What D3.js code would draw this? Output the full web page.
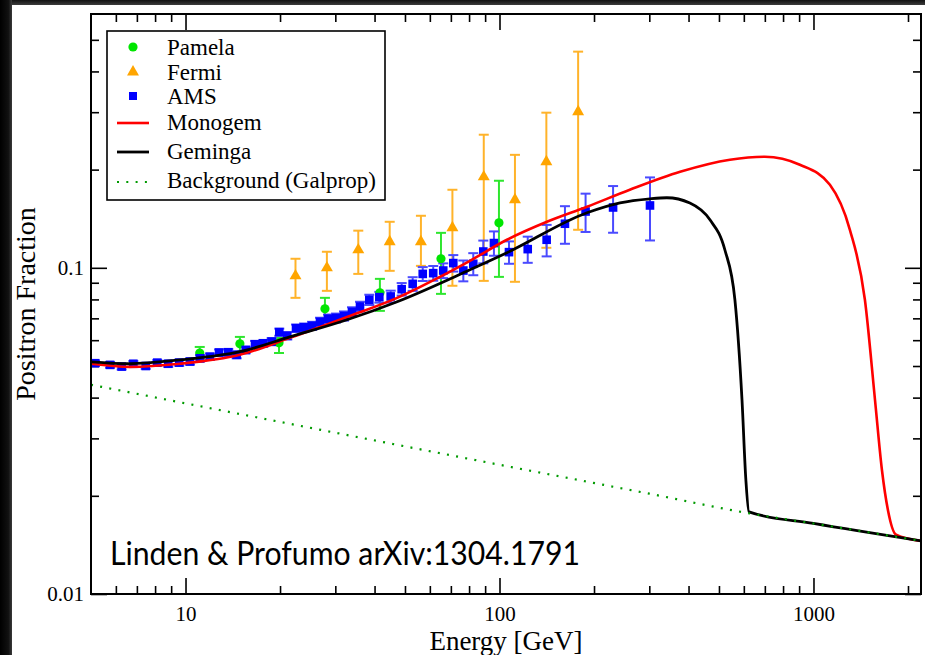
<!DOCTYPE html>
<html><head><meta charset="utf-8">
<script src="https://cdn.jsdelivr.net/npm/d3@7"></script>
<style>html,body{margin:0;padding:0;background:#fff;overflow:hidden}svg{display:block}</style>
</head><body>
<svg id="c" width="925" height="655"></svg>
<script>
// ---------------- data ----------------
const pamelaE  = [11.1, 14.9, 19.85, 27.8, 41.6, 65.1, 99.6];
const pamelaV  = [0.0548, 0.0585, 0.0589, 0.0749, 0.0838, 0.1066, 0.1374];
const pamelaLo = [0.0526, 0.0553, 0.0548, 0.0702, 0.0738, 0.0832, 0.0938];
const pamelaHi = [0.0572, 0.0614, 0.0610, 0.0809, 0.0925, 0.1280, 0.1849];

const fermiE  = [22.4, 28.2, 35.5, 44.7, 56.2, 70.8, 89.1, 112, 141, 178];
const fermiV  = [0.0945, 0.100, 0.1135, 0.1202, 0.1202, 0.1327, 0.190, 0.1617, 0.2114, 0.301];
const fermiLo = [0.0809, 0.085, 0.0958, 0.0979, 0.1014, 0.0881, 0.0912, 0.0906, 0.1152, 0.1308];
const fermiHi = [0.1066, 0.112, 0.130, 0.1384, 0.1444, 0.1735, 0.2559, 0.222, 0.299, 0.46];

const amsE = [5.15,5.75,6.26,6.82,7.47,8.13,8.81,9.55,10.33,11.12,11.96,12.79,13.68,14.55,15.55,16.65,17.69,18.81,19.89,21.09,22.49,23.85,25.29,26.81,28.43,30.15,31.97,33.9,35.95,38.49,41.42,45.02,48.8,52.9,56.95,61.5,66.2,71.26,76.7,82.5,88.8,96,107.2,123,141.3,161.6,188,230,301.5];
const amsV = [0.0510,0.0504,0.0498,0.0508,0.0500,0.0512,0.0508,0.0512,0.0516,0.0528,0.0534,0.0550,0.0551,0.0541,0.0560,0.0583,0.0587,0.0594,0.0635,0.0619,0.0653,0.0657,0.0664,0.0683,0.0698,0.0702,0.0712,0.0733,0.0761,0.0798,0.0813,0.0817,0.0860,0.0893,0.0958,0.0963,0.0981,0.1034,0.0981,0.1029,0.1122,0.1191,0.1117,0.1141,0.1219,0.1365,0.1488,0.1531,0.1553];
const amsErr = [0.0010,0.0010,0.0010,0.0010,0.0010,0.0010,0.0011,0.0011,0.0011,0.0012,0.0012,0.0012,0.0013,0.0013,0.0013,0.0014,0.0014,0.0015,0.0016,0.0016,0.0017,0.0018,0.0019,0.0020,0.0021,0.0022,0.0023,0.0024,0.0026,0.0029,0.0031,0.0034,0.0038,0.0043,0.0047,0.0050,0.0051,0.0060,0.0072,0.0080,0.0090,0.0102,0.0088,0.0105,0.0135,0.0180,0.0200,0.0250,0.0340];

const monogemE = [5, 6.65, 9.6, 14.9, 21.5, 32.7, 47.2, 64.6, 80.5, 105.6, 141.6, 190, 260, 376, 542, 700, 905, 1128, 1306, 1458, 1570, 1652, 1726, 1832, 2200];
const monogemV = [0.0508, 0.0497, 0.0508, 0.0541, 0.061, 0.0707, 0.0809, 0.0938, 0.1051, 0.1219, 0.1384, 0.1539, 0.1735, 0.197, 0.2145, 0.219, 0.207, 0.1797, 0.1308, 0.0798, 0.0394, 0.024, 0.0181, 0.0152, 0.01455];

const gemingaE = [5, 6.65, 9.6, 14.9, 21.5, 32.7, 47.2, 80.5, 105.6, 190, 242, 301.6, 341, 404, 468, 522, 562, 592, 609, 623, 1000, 2200];
const gemingaV = [0.0515, 0.0508, 0.0522, 0.0553, 0.0614, 0.0693, 0.0787, 0.0986, 0.1112, 0.1475, 0.1582, 0.1628, 0.164, 0.158, 0.1403, 0.1136, 0.0798, 0.0394, 0.0224, 0.01785, 0.01645, 0.01455];

const bgE = [5, 20, 100, 300, 640, 1000, 2200];
const bgV = [0.0438, 0.0337, 0.0249, 0.0203, 0.0176, 0.01645, 0.01455];

const xMajor = [10, 100, 1000];
const xMinor = [6,7,8,9,20,30,40,50,60,70,80,90,200,300,400,500,600,700,800,900,2000];
const yMajor = [0.01, 0.1];
const yMinor = [0.02,0.03,0.04,0.05,0.06,0.07,0.08,0.09,0.2,0.3,0.4,0.5];

const legendNames = ["Pamela", "Fermi", "AMS", "Monogem", "Geminga", "Background (Galprop)"];

// ---------------- drawing ----------------
const svg = d3.select("#c");
const L = 91, R = 921, T = 14, B = 594;
const x = d3.scaleLog().domain([5, 2200]).range([L, R]);
const y = d3.scaleLog().domain([0.01, 0.6]).range([B, T]);

const serif = "'Liberation Serif','Times New Roman',serif";
const C = {pamela:"#00e600", pamelaBar:"#2ee62e", fermi:"#ffa500", fermiBar:"#ffb32a",
           ams:"#0000ff", amsBar:"#4a4aff", mono:"#ff0000", gem:"#000000", bg:"#009a00"};

// page frame (dark borders)
const defs = svg.append("defs");
const lg = defs.append("linearGradient").attr("id","lgrad").attr("x1","0").attr("x2","1").attr("y1","0").attr("y2","0");
lg.append("stop").attr("offset","0").attr("stop-color","#000");
lg.append("stop").attr("offset","0.7").attr("stop-color","#111");
lg.append("stop").attr("offset","1").attr("stop-color","#3a3a3a");
const tg = defs.append("linearGradient").attr("id","tgrad").attr("x1","0").attr("x2","0").attr("y1","0").attr("y2","1");
tg.append("stop").attr("offset","0").attr("stop-color","#111");
tg.append("stop").attr("offset","1").attr("stop-color","#3c3c3c");
svg.append("rect").attr("x",0).attr("y",0).attr("width",925).attr("height",5).attr("fill","url(#tgrad)");
svg.append("rect").attr("x",0).attr("y",0).attr("width",12).attr("height",655).attr("fill","url(#lgrad)");

defs.append("clipPath").attr("id","plotclip").append("rect")
  .attr("x",L).attr("y",T).attr("width",R-L).attr("height",B-T);

// axes
function styleAxis(g){
  g.select(".domain").remove();
  g.selectAll(".tick line").attr("stroke","#000").attr("stroke-width",1.6);
  g.selectAll(".tick text").attr("font-family",serif).attr("font-size",21).attr("fill","#000");
}
svg.append("g").attr("transform",`translate(0,${B})`)
  .call(d3.axisBottom(x).tickValues(xMajor).tickFormat(d3.format("d")).tickSize(-16).tickPadding(12)).call(styleAxis);
svg.append("g").attr("transform",`translate(0,${B})`)
  .call(d3.axisBottom(x).tickValues(xMinor).tickFormat("").tickSize(-8)).call(styleAxis);
svg.append("g").attr("transform",`translate(0,${T})`)
  .call(d3.axisTop(x).tickValues(xMajor).tickFormat("").tickSize(-16)).call(styleAxis);
svg.append("g").attr("transform",`translate(0,${T})`)
  .call(d3.axisTop(x).tickValues(xMinor).tickFormat("").tickSize(-8)).call(styleAxis);
svg.append("g").attr("transform",`translate(${L},0)`)
  .call(d3.axisLeft(y).tickValues(yMajor).tickFormat(d => d === 0.1 ? "0.1" : "0.01").tickSize(-16).tickPadding(7)).call(styleAxis);
svg.append("g").attr("transform",`translate(${L},0)`)
  .call(d3.axisLeft(y).tickValues(yMinor).tickFormat("").tickSize(-8)).call(styleAxis);
svg.append("g").attr("transform",`translate(${R},0)`)
  .call(d3.axisRight(y).tickValues(yMajor).tickFormat("").tickSize(-16)).call(styleAxis);
svg.append("g").attr("transform",`translate(${R},0)`)
  .call(d3.axisRight(y).tickValues(yMinor).tickFormat("").tickSize(-8)).call(styleAxis);
// bottom tick labels: place baseline explicitly
svg.selectAll("g.tick text").filter(function(){ return this.textContent && /^\d+$/.test(this.textContent); })
  .attr("dy", null).attr("y", 27);

// axis titles
svg.append("text").attr("x",(L+R)/2).attr("y",650).attr("text-anchor","middle")
  .attr("font-family",serif).attr("font-size",27).text("Energy [GeV]");
svg.append("text").attr("transform",`translate(35,${(T+B)/2}) rotate(-90)`).attr("text-anchor","middle")
  .attr("font-family",serif).attr("font-size",28).text("Positron Fraction");

// annotation
svg.append("text").attr("x",110).attr("y",565).attr("font-family","Lato,'Open Sans',sans-serif")
  .attr("font-size",32).attr("textLength",470).attr("lengthAdjust","spacingAndGlyphs")
  .text("Linden & Profumo arXiv:1304.1791");

const plot = svg.append("g").attr("clip-path","url(#plotclip)");

// error bars helper
function errBars(g, E, lo, hi, color, cap){
  const sel = g.append("g").attr("stroke",color).attr("stroke-width",2).attr("fill","none");
  E.forEach((e,i)=>{
    const cx = x(e), y1 = y(lo[i]), y2 = y(hi[i]);
    sel.append("line").attr("x1",cx).attr("x2",cx).attr("y1",y1).attr("y2",y2);
    sel.append("line").attr("x1",cx-cap).attr("x2",cx+cap).attr("y1",y1).attr("y2",y1);
    sel.append("line").attr("x1",cx-cap).attr("x2",cx+cap).attr("y1",y2).attr("y2",y2);
  });
}
const amsLo = amsV.map((v,i)=>v-amsErr[i]);
const amsHi = amsV.map((v,i)=>v+amsErr[i]);

errBars(plot, fermiE, fermiLo, fermiHi, C.fermiBar, 5);
errBars(plot, pamelaE, pamelaLo, pamelaHi, C.pamelaBar, 5);
errBars(plot, amsE, amsLo, amsHi, C.amsBar, 5);

const tri = d3.symbol().type(d3.symbolTriangle).size(62);
plot.append("g").selectAll("path").data(fermiE).join("path")
  .attr("d", tri).attr("transform",(d,i)=>`translate(${x(d)},${y(fermiV[i])})`).attr("fill",C.fermi);
plot.append("g").selectAll("circle").data(pamelaE).join("circle")
  .attr("cx",d=>x(d)).attr("cy",(d,i)=>y(pamelaV[i])).attr("r",4.6).attr("fill",C.pamela);
plot.append("g").selectAll("rect").data(amsE).join("rect")
  .attr("x",d=>x(d)-4.3).attr("y",(d,i)=>y(amsV[i])-4.3).attr("width",8.6).attr("height",8.6).attr("fill",C.ams);

// curves
const line = d3.line().x(d=>x(d[0])).y(d=>y(d[1])).curve(d3.curveMonotoneX);
plot.append("path").datum(monogemE.map((e,i)=>[e,monogemV[i]])).attr("d",line)
  .attr("fill","none").attr("stroke",C.mono).attr("stroke-width",2.6);
plot.append("path").datum(gemingaE.map((e,i)=>[e,gemingaV[i]])).attr("d",line)
  .attr("fill","none").attr("stroke",C.gem).attr("stroke-width",2.8);
plot.append("path").datum(bgE.map((e,i)=>[e,bgV[i]])).attr("d",line)
  .attr("fill","none").attr("stroke",C.bg).attr("stroke-width",2.2).attr("stroke-dasharray","2,7.3");

// frame
svg.append("rect").attr("x",L).attr("y",T).attr("width",R-L).attr("height",B-T)
  .attr("fill","none").attr("stroke","#000").attr("stroke-width",2);

// legend
const lgd = svg.append("g");
lgd.append("rect").attr("x",107).attr("y",31).attr("width",278).attr("height",169)
  .attr("fill","#fff").attr("stroke","#000").attr("stroke-width",1.6);
const rowsY = [47, 72, 96, 122, 151, 180];
legendNames.forEach((name,i)=>{
  const ry = rowsY[i];
  if (i===0) lgd.append("circle").attr("cx",133).attr("cy",ry).attr("r",4.6).attr("fill",C.pamela);
  if (i===1) lgd.append("path").attr("d",tri).attr("transform",`translate(133,${ry})`).attr("fill",C.fermi);
  if (i===2) lgd.append("rect").attr("x",129).attr("y",ry-4).attr("width",8).attr("height",8).attr("fill",C.ams);
  if (i===3) lgd.append("line").attr("x1",117).attr("x2",149).attr("y1",ry+1).attr("y2",ry+1).attr("stroke",C.mono).attr("stroke-width",2.6);
  if (i===4) lgd.append("line").attr("x1",117).attr("x2",149).attr("y1",ry+1).attr("y2",ry+1).attr("stroke",C.gem).attr("stroke-width",2.8);
  if (i===5) lgd.append("line").attr("x1",117).attr("x2",149).attr("y1",ry+2).attr("y2",ry+2).attr("stroke",C.bg).attr("stroke-width",2.2).attr("stroke-dasharray","2,7.3");
  lgd.append("text").attr("x",167).attr("y",ry+8).attr("font-family",serif).attr("font-size",23).text(name);
});
</script>
</body></html>
